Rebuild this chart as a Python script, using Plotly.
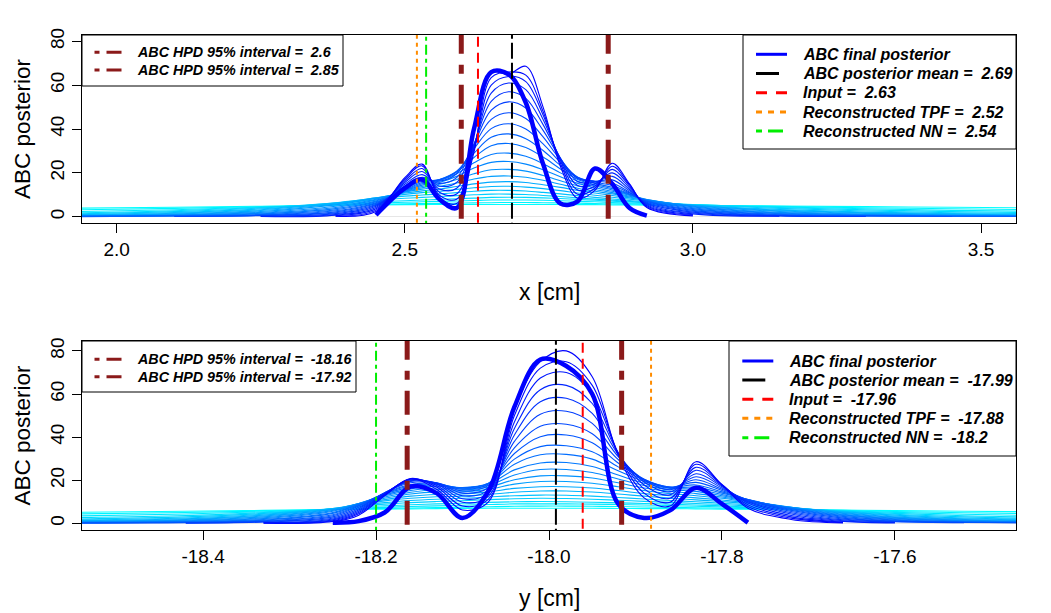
import plotly.graph_objects as go

# ---------------- data ----------------
TOP_X = [1.90, 2.10, 2.25, 2.38, 2.45, 2.50, 2.53, 2.56, 2.59, 2.62, 2.65, 2.68, 2.71,
         2.74, 2.77, 2.80, 2.83, 2.86, 2.89, 2.92, 3.00, 3.15, 3.30, 3.45, 3.60]
N = None
TOP_CURVES = [
    [3.8, 4.3, 4.8, 5.2, 5.4, 5.5, 5.5, 5.6, 5.6, 5.6, 5.6, 5.6, 5.6, 5.6, 5.6, 5.5, 5.5, 5.4, 5.4, 5.3, 5.2, 4.9, 4.6, 4.3, 4.0],
    [3.0, 3.8, 4.6, 5.3, 5.7, 5.9, 6.0, 6.1, 6.2, 6.3, 6.4, 6.5, 6.5, 6.4, 6.3, 6.2, 6.0, 5.9, 5.8, 5.6, 5.3, 4.7, 4.1, 3.6, 3.2],
    [2.2, 3.2, 4.4, 5.6, 6.2, 6.6, 6.8, 7.0, 7.2, 7.4, 7.6, 7.6, 7.6, 7.5, 7.3, 7.0, 6.8, 6.5, 6.2, 6.0, 5.4, 4.5, 3.6, 2.9, 2.4],
    [1.6, 2.7, 4.2, 5.8, 6.8, 7.3, 7.6, 7.9, 8.2, 8.5, 8.8, 8.9, 8.8, 8.6, 8.3, 7.9, 7.5, 7.1, 6.7, 6.3, 5.5, 4.2, 3.1, 2.3, 1.8],
    [1.2, 2.3, 4.0, 6.2, 7.6, 8.4, 8.8, 9.2, 9.6, 10.0, 10.3, 10.3, 10.1, 9.7, 9.2, 8.6, 8.0, 7.5, 7.0, 6.5, 5.4, 3.8, 2.6, 1.8, 1.3],
    [0.9, 1.9, 3.6, 6.4, 8.3, 9.4, 9.9, 10.4, 11.0, 11.6, 12.0, 12.0, 11.7, 11.1, 10.4, 9.6, 8.8, 8.1, 7.4, 6.7, 5.2, 3.3, 2.1, 1.4, 1.0],
    [0.7, 1.6, 3.2, 6.2, 8.6, 10.2, 11.0, 11.6, 12.4, 13.2, 13.8, 13.9, 13.5, 12.8, 11.9, 10.8, 9.8, 8.9, 8.0, 7.1, 5.2, 3.0, 1.8, 1.1, 0.8],
    [0.5, 1.3, 2.8, 5.8, 8.6, 10.8, 11.8, 12.6, 13.8, 15.0, 15.8, 16.0, 15.6, 14.6, 13.4, 12.0, 10.8, 9.7, 8.6, 7.4, 5.2, 2.7, 1.5, 0.9, 0.6],
    [0.4, 1.0, 2.4, 5.4, 8.4, 11.2, 12.6, 13.8, 15.4, 17.2, 18.4, 18.6, 18.0, 16.6, 14.8, 13.0, 11.6, 10.4, 9.0, 7.6, 5.0, 2.4, 1.2, 0.7, 0.5],
    [0.3, 0.8, 2.0, 4.8, 8.0, 11.4, 13.2, 14.8, 17.0, 19.6, 21.4, 21.6, 20.8, 18.8, 16.4, 14.0, 12.4, 11.0, 9.4, 7.8, 4.8, 2.0, 1.0, 0.5, 0.4],
    [0.2, 0.6, 1.6, 4.2, 7.6, 11.6, 13.8, 15.6, 18.4, 22.2, 24.8, 25.2, 24.0, 21.4, 18.2, 15.2, 13.2, 11.6, 9.8, 7.8, 4.5, 1.7, 0.8, 0.4, 0.3],
    [0.1, 0.5, 1.3, 3.7, 7.2, 11.8, 14.4, 16.4, 19.6, 24.6, 28.4, 29.0, 27.6, 24.2, 20.0, 16.2, 14.0, 12.2, 10.0, 7.6, 4.1, 1.4, 0.6, 0.3, 0.2],
    [0.1, 0.4, 1.0, 3.2, 6.8, 12.0, 15.0, 16.8, 20.4, 27.0, 32.4, 33.4, 31.6, 27.2, 21.8, 17.0, 14.6, 12.8, 10.2, 7.4, 3.7, 1.1, 0.5, 0.2, 0.2],
    [0.0, 0.3, 0.8, 2.7, 6.4, 12.2, 15.6, 17.0, 20.8, 29.0, 36.2, 37.8, 35.6, 30.2, 23.4, 17.6, 15.2, 13.4, 10.4, 7.2, 3.3, 0.9, 0.4, 0.2, 0.1],
    [N, 0.2, 0.6, 2.2, 6.0, 12.6, 16.2, 16.8, 20.6, 31.0, 40.2, 42.4, 40.0, 33.2, 24.8, 18.0, 15.8, 14.2, 10.8, 7.0, 2.9, 0.7, 0.3, 0.1, N],
    [N, 0.1, 0.5, 1.8, 5.6, 13.2, 17.0, 16.2, 19.6, 32.4, 44.4, 47.4, 44.8, 36.4, 26.0, 18.0, 16.2, 15.4, 11.2, 6.6, 2.5, 0.5, 0.2, N, N],
    [N, N, 0.3, 1.4, 5.2, 14.0, 18.0, 15.2, 17.8, 33.0, 48.6, 52.4, 49.6, 39.4, 26.6, 17.4, 16.2, 16.8, 11.8, 6.2, 2.1, 0.4, 0.1, N, N],
    [N, N, 0.2, 1.0, 4.8, 14.8, 19.2, 14.0, 15.6, 33.0, 52.6, 57.0, 54.0, 42.0, 26.8, 16.0, 15.8, 18.4, 12.4, 5.8, 1.7, 0.3, N, N, N],
    [N, N, 0.1, 0.7, 4.2, 15.6, 20.6, 12.6, 13.0, 32.4, 56.4, 61.0, 58.0, 44.4, 26.4, 14.2, 15.0, 20.0, 13.2, 5.4, 1.3, 0.2, N, N, N],
    [N, N, N, 0.5, 3.6, 16.4, 22.0, 11.2, 10.4, 31.6, 60.0, 64.0, 61.6, 46.4, 25.6, 12.2, 14.0, 21.6, 14.0, 5.0, 1.0, N, N, N, N],
    [N, N, N, 0.3, 3.0, 17.2, 23.2, 9.8, 8.0, 30.6, 63.4, 66.0, 64.6, 48.0, 24.4, 10.2, 13.0, 23.0, 14.6, 4.6, 0.7, N, N, N, N],
    [N, N, N, 0.2, 2.4, 17.8, 24.0, 8.6, 6.0, 29.4, 66.0, 65.0, 68.6, 50.0, 23.0, 8.4, 12.0, 24.4, 15.0, 4.2, 0.4, N, N, N, N],
]
TOP_FINAL = [N, N, N, N, 0.8, 13.0, 17.0, 8.0, 4.0, 40.0, 66.0, 65.0, 52.0, 24.0, 6.0, 7.0, 22.0, 15.0, 4.0, 0.5, N, N, N, N, N]

BOT_X = [-18.58, -18.42, -18.33, -18.25, -18.22, -18.19, -18.16, -18.13, -18.10, -18.07, -18.04, -18.01, -17.98,
         -17.95, -17.92, -17.89, -17.86, -17.83, -17.80, -17.77, -17.72, -17.66, -17.60, -17.52, -17.42]
BOT_CURVES = [
    [5.0, 5.6, 6.0, 6.4, 6.5, 6.6, 6.7, 6.8, 6.9, 7.0, 7.0, 7.0, 7.0, 7.0, 6.9, 6.8, 6.8, 6.7, 6.6, 6.5, 6.3, 6.1, 5.9, 5.6, 5.3],
    [4.2, 5.0, 5.7, 6.4, 6.7, 6.9, 7.1, 7.3, 7.5, 7.7, 7.9, 8.0, 8.0, 7.9, 7.8, 7.6, 7.4, 7.2, 7.0, 6.8, 6.5, 6.0, 5.5, 4.9, 4.4],
    [3.2, 4.3, 5.4, 6.4, 7.0, 7.4, 7.8, 8.1, 8.4, 8.7, 9.0, 9.0, 9.0, 8.9, 8.7, 8.5, 8.2, 7.9, 7.6, 7.3, 6.7, 5.9, 5.1, 4.2, 3.5],
    [2.4, 3.6, 5.0, 6.6, 7.5, 8.1, 8.6, 9.0, 9.3, 9.7, 10.0, 10.1, 10.0, 9.8, 9.5, 9.2, 8.9, 8.5, 8.1, 7.6, 6.8, 5.7, 4.6, 3.5, 2.7],
    [1.8, 3.0, 4.6, 6.8, 8.0, 8.9, 9.6, 10.1, 10.5, 11.0, 11.4, 11.6, 11.5, 11.2, 10.7, 10.2, 9.7, 9.2, 8.7, 8.1, 7.0, 5.6, 4.2, 3.0, 2.1],
    [1.4, 2.5, 4.2, 6.8, 8.4, 9.6, 10.6, 11.2, 11.6, 12.2, 12.8, 13.1, 13.0, 12.6, 12.0, 11.3, 10.6, 10.0, 9.3, 8.6, 7.2, 5.4, 3.8, 2.5, 1.7],
    [1.1, 2.1, 3.8, 6.8, 8.8, 10.4, 11.6, 12.3, 12.6, 13.4, 14.4, 15.0, 15.0, 14.5, 13.6, 12.6, 11.7, 10.9, 10.1, 9.2, 7.3, 5.2, 3.4, 2.1, 1.4],
    [0.9, 1.8, 3.4, 6.6, 9.0, 11.0, 12.6, 13.4, 13.6, 14.6, 16.2, 17.0, 17.0, 16.4, 15.2, 13.8, 12.8, 11.8, 10.8, 9.6, 7.4, 4.9, 3.0, 1.8, 1.1],
    [0.7, 1.5, 3.0, 6.4, 9.2, 11.6, 13.6, 14.6, 14.6, 15.8, 18.2, 19.4, 19.4, 18.6, 17.0, 15.2, 13.8, 12.8, 11.6, 10.0, 7.4, 4.6, 2.7, 1.5, 0.9],
    [0.5, 1.2, 2.6, 6.0, 9.2, 12.2, 14.4, 15.6, 15.4, 16.8, 20.2, 22.0, 22.0, 21.0, 18.8, 16.4, 14.8, 13.8, 12.2, 10.4, 7.4, 4.2, 2.4, 1.2, 0.7],
    [0.4, 1.0, 2.2, 5.6, 9.2, 12.8, 15.2, 16.4, 16.0, 17.6, 22.4, 25.0, 25.0, 23.6, 20.6, 17.6, 15.6, 14.8, 12.8, 10.6, 7.2, 3.9, 2.1, 1.0, 0.6],
    [0.3, 0.8, 1.8, 5.0, 9.0, 13.2, 16.0, 17.2, 16.4, 18.2, 24.8, 28.0, 28.2, 26.4, 22.4, 18.6, 16.2, 15.8, 13.4, 10.8, 7.0, 3.6, 1.8, 0.8, 0.5],
    [0.2, 0.6, 1.5, 4.6, 8.8, 13.6, 16.8, 17.8, 16.6, 18.6, 27.4, 31.8, 32.0, 29.8, 24.4, 19.4, 16.6, 16.8, 14.0, 11.0, 6.8, 3.2, 1.5, 0.7, 0.4],
    [0.1, 0.5, 1.2, 4.0, 8.4, 13.8, 17.4, 18.2, 16.4, 18.6, 29.8, 35.6, 36.0, 33.2, 26.2, 20.0, 16.8, 17.8, 14.6, 11.0, 6.4, 2.8, 1.2, 0.5, 0.3],
    [0.1, 0.3, 1.0, 3.5, 8.0, 14.0, 18.0, 18.6, 15.8, 18.2, 32.4, 40.2, 41.0, 37.4, 28.0, 20.4, 16.8, 19.0, 15.2, 11.0, 6.0, 2.4, 1.0, 0.4, 0.2],
    [N, 0.2, 0.8, 3.0, 7.4, 14.2, 18.8, 18.8, 15.0, 17.6, 35.0, 45.0, 46.0, 41.6, 29.6, 20.4, 16.4, 20.2, 15.8, 10.8, 5.5, 2.0, 0.8, 0.3, N],
    [N, 0.1, 0.6, 2.5, 6.8, 14.2, 19.4, 18.8, 14.0, 16.6, 38.0, 50.6, 52.0, 46.4, 31.0, 20.0, 15.6, 21.6, 16.4, 10.4, 4.9, 1.6, 0.6, N, N],
    [N, N, 0.4, 2.0, 6.2, 14.0, 19.8, 18.6, 12.8, 15.4, 41.0, 56.4, 58.0, 51.0, 32.0, 19.2, 14.6, 23.0, 17.0, 10.0, 4.3, 1.2, 0.4, N, N],
    [N, N, 0.3, 1.6, 5.6, 13.8, 20.2, 18.2, 11.4, 14.0, 44.0, 62.0, 64.0, 55.6, 32.6, 17.8, 13.2, 24.6, 17.4, 9.4, 3.6, 0.9, 0.2, N, N],
    [N, N, 0.2, 1.2, 5.0, 13.6, 20.6, 17.6, 9.8, 12.6, 47.0, 67.4, 70.0, 60.0, 32.8, 16.0, 11.6, 26.0, 17.8, 8.6, 3.0, 0.6, N, N, N],
    [N, N, 0.1, 0.9, 4.4, 13.2, 20.8, 16.8, 8.0, 11.2, 50.0, 72.0, 75.0, 64.0, 32.4, 14.0, 9.8, 27.4, 18.0, 7.8, 2.4, 0.4, N, N, N],
    [N, N, N, 0.6, 3.8, 12.8, 20.6, 15.8, 6.2, 10.0, 53.0, 75.0, 80.0, 68.0, 31.6, 11.8, 8.0, 28.6, 17.8, 7.0, 1.8, 0.2, N, N, N],
]
BOT_FINAL = [N, N, N, 0.3, 1.0, 5.0, 17.0, 14.0, 2.5, 15.0, 54.0, 76.0, 73.0, 60.0, 9.0, 2.5, 6.0, 16.5, 9.0, 0.3, N, N, N, N, N]

TOP_HPD = [2.598, 2.853]
TOP_MEAN = 2.686
TOP_INPUT = 2.627
TOP_TPF = 2.521
TOP_NN = 2.537

BOT_HPD = [-18.164, -17.916]
BOT_MEAN = -17.992
BOT_INPUT = -17.961
BOT_TPF = -17.882
BOT_NN = -18.2

TOP_XTICKS = [2.0, 2.5, 3.0, 3.5]
TOP_XTICKTEXT = ["2.0", "2.5", "3.0", "3.5"]
BOT_XTICKS = [-18.4, -18.2, -18.0, -17.8, -17.6]
BOT_XTICKTEXT = ["-18.4", "-18.2", "-18.0", "-17.8", "-17.6"]
Y_TICKS = [0, 20, 40, 60, 80]
Y_TICKTEXT = ["0", "20", "40", "60", "80"]

TOP_XRANGE = [1.9398, 3.5607]
BOT_XRANGE = [-18.540, -17.460]
TOP_YRANGE = [-2.87, 82.9]
BOT_YRANGE = [-3.1, 84.6]

# ---------------- styles / geometry ----------------
FONT = "Liberation Sans, Arial, Helvetica, sans-serif"
HPD_COL = "#8B1A1A"
OFF = 8                      # page body margin of the html
W, H = 1051 - OFF, 613 - OFF  # figure size so it ends at the window edge
# plot area in window pixels
PL, PR, PT, PB = 82, 1016, 35, 530
ML, MT = PL - OFF, PT - OFF
MR, MB = W - (PR - OFF), H - (PB - OFF)
PW, PH = PR - PL, PB - PT


def fmt(v):
    return f"{round(v, 2):g}"


def ramp(i, n):
    t = i / (n - 1)
    return f"rgb(0,{round(255 * (1 - t))},255)"


def px(xp):
    return (xp - PL) / PW


def py(yp):
    return (PB - yp) / PH


fig = go.Figure()


def add_panel(xs, curves, final, hpd, mean, inp, tpf, nn, xa, ya):
    n = len(curves)
    for i, c in enumerate(curves):
        fig.add_trace(go.Scatter(x=xs, y=c, mode="lines", xaxis=xa, yaxis=ya,
                                 line=dict(color=ramp(i, n), width=1.1, shape="spline", smoothing=1.0),
                                 showlegend=False, hoverinfo="skip"))
    fig.add_trace(go.Scatter(x=xs, y=final, mode="lines", xaxis=xa, yaxis=ya,
                             line=dict(color="#0000FF", width=4.5, shape="spline", smoothing=1.0),
                             showlegend=False, hoverinfo="skip"))
    vlines = [
        (mean, "#000000", 2, "16px,4px"),
        (inp, "#FF0000", 2, "10px,6px"),
        (tpf, "#FF8C00", 2, "4px,4px"),
        (nn, "#00EE00", 2, "4px,4px,10px,4px"),
        (hpd[0], HPD_COL, 5, "9px,11px,24px,11px"),
        (hpd[1], HPD_COL, 5, "9px,11px,24px,11px"),
    ]
    for v, col, wd, dash in vlines:
        fig.add_trace(go.Scatter(x=[v, v], y=[-10, 100], mode="lines", xaxis=xa, yaxis=ya,
                                 line=dict(color=col, width=wd, dash=dash),
                                 showlegend=False, hoverinfo="skip"))


add_panel(TOP_X, TOP_CURVES, TOP_FINAL, TOP_HPD, TOP_MEAN, TOP_INPUT, TOP_TPF, TOP_NN, "x", "y")
add_panel(BOT_X, BOT_CURVES, BOT_FINAL, BOT_HPD, BOT_MEAN, BOT_INPUT, BOT_TPF, BOT_NN, "x2", "y2")

shapes = []
annots = []


def legend(box, rows, sx0, tx, fsize, items):
    x0, y0, x1, y1 = box
    shapes.append(dict(type="rect", xref="paper", yref="paper", x0=px(x0), x1=px(x1), y0=py(y1), y1=py(y0),
                       line=dict(color="black", width=1), fillcolor="white", layer="above"))
    for ry, (label, col, dash, length) in zip(rows, items):
        shapes.append(dict(type="line", xref="paper", yref="paper", x0=px(sx0), x1=px(sx0 + length),
                           y0=py(ry), y1=py(ry), line=dict(color=col, width=3, dash=dash), layer="above"))
        annots.append(dict(xref="paper", yref="paper", x=px(tx), y=py(ry), xanchor="left", yanchor="middle",
                           text=f"<b><i>{label}</i></b>", showarrow=False,
                           font=dict(family=FONT, size=fsize, color="black")))


def items_right(mean, inp, tpf, nn):
    return [
        ("ABC final posterior", "#0000FF", "solid", 31),
        (f"ABC posterior mean =\u00a0 {fmt(mean)}", "#000000", "solid", 23),
        (f"Input =\u00a0 {fmt(inp)}", "#FF0000", "11px,9px", 31),
        (f"Reconstructed TPF =\u00a0 {fmt(tpf)}", "#FF8C00", "6px,6px", 30),
        (f"Reconstructed NN =\u00a0 {fmt(nn)}", "#00EE00", "6px,6px,15px,6px", 27),
    ]


def items_left(hpd):
    return [(f"ABC HPD 95% interval =\u00a0 {fmt(v)}", HPD_COL, "5px,7px,15px,7px", 27) for v in hpd]


legend((82, 35, 343, 86), [52.3, 70.0], 94.5, 135, 14.3, items_left(TOP_HPD))
legend((743, 35, 1016, 149), [54.3, 73.5, 92.7, 112.0, 131.0], 756, 800.7, 16,
       items_right(TOP_MEAN, TOP_INPUT, TOP_TPF, TOP_NN))
legend((82, 341, 356, 392), [359.3, 376.7], 94.5, 135, 14.3, items_left(BOT_HPD))
legend((729, 341, 1016, 456), [361.0, 380.0, 399.3, 418.3, 437.7], 742.3, 786.7, 16,
       items_right(BOT_MEAN, BOT_INPUT, BOT_TPF, BOT_NN))

# axis titles
for txt, xx, yy, ang, fs in [("ABC posterior", 22, 129, -90, 22.5), ("ABC posterior", 22, 435.5, -90, 22.5),
                             ("x [cm]", 549, 292, 0, 23), ("y [cm]", 549, 598, 0, 23)]:
    annots.append(dict(xref="paper", yref="paper", x=px(xx), y=py(yy), xanchor="center", yanchor="middle",
                       text=txt, textangle=ang, showarrow=False,
                       font=dict(family=FONT, size=fs, color="black")))

axis_common = dict(showline=True, linecolor="black", linewidth=1, mirror=True, ticks="outside",
                   ticklen=9, tickwidth=1, tickcolor="black", showgrid=False,
                   tickfont=dict(family=FONT, size=19, color="black"))

top_dom = [1 - 188 / PH, 1]
bot_dom = [0, 189 / PH]

fig.update_layout(
    width=W, height=H,
    margin=dict(l=ML, r=MR, t=MT, b=MB, pad=0),
    paper_bgcolor="white", plot_bgcolor="white",
    showlegend=False,
    xaxis=dict(domain=[0, 1], anchor="y", range=TOP_XRANGE, tickvals=TOP_XTICKS, ticktext=TOP_XTICKTEXT,
               zeroline=False, **axis_common),
    yaxis=dict(domain=top_dom, anchor="x", range=TOP_YRANGE, tickvals=Y_TICKS, ticktext=Y_TICKTEXT,
               tickangle=-90, zeroline=True, zerolinecolor="#E6E6E6", zerolinewidth=1, **axis_common),
    xaxis2=dict(domain=[0, 1], anchor="y2", range=BOT_XRANGE, tickvals=BOT_XTICKS, ticktext=BOT_XTICKTEXT,
                zeroline=False, **axis_common),
    yaxis2=dict(domain=bot_dom, anchor="x2", range=BOT_YRANGE, tickvals=Y_TICKS, ticktext=Y_TICKTEXT,
                tickangle=-90, zeroline=True, zerolinecolor="#E6E6E6", zerolinewidth=1, **axis_common),
    shapes=shapes,
    annotations=annots,
)

fig.write_html("out.html")
